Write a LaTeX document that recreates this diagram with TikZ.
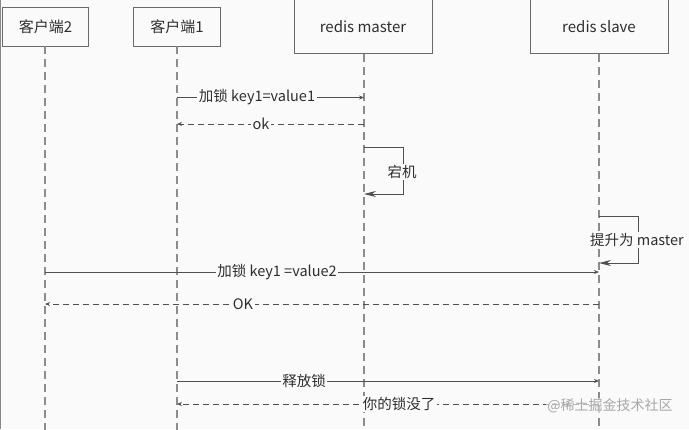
\documentclass[tikz,border=0pt]{standalone}
\usepackage{fontspec}
\setmainfont{Noto Sans CJK SC}
\usetikzlibrary{arrows.meta}
\definecolor{bg}{HTML}{FAFAFA}
\definecolor{boxc}{HTML}{6A6A6A}
\definecolor{lifec}{HTML}{8C8C8C}
\definecolor{msgc}{HTML}{505050}
\definecolor{txtc}{HTML}{2E2E2E}
\definecolor{wmc}{HTML}{A8A8A8}
\tikzset{
  actor/.style={draw=boxc, line width=0.9pt, fill=bg, font=\fontsize{15}{17}\selectfont, text=txtc},
  life/.style={draw=lifec, line width=1.2pt, dash pattern=on 8pt off 5pt},
  msg/.style={draw=msgc, line width=0.9pt, -{Stealth[length=5pt,width=4pt]}},
  reply/.style={draw=msgc, line width=0.9pt, dash pattern=on 6pt off 4pt, -{Stealth[length=5pt,width=4pt]}},
  self/.style={draw=msgc, line width=0.9pt, -{Stealth[length=12pt,width=6pt]}},
  lbl/.style={fill=bg, inner sep=1.5pt, font=\fontsize{14.5}{16}\selectfont, text=txtc},
}
\begin{document}
\begin{tikzpicture}[x=1pt,y=-1pt]
\useasboundingbox (0,0) rectangle (689,429);
\clip (0,0) rectangle (689,429);
\fill[bg] (0,0) rectangle (689,429);
\draw[boxc!80, line width=1.5pt] (0.5,0) -- (0.5,429);
% actors
\node[actor, minimum width=86pt, minimum height=39pt, anchor=north west] (c2) at (2,7) {客户端2};
\node[actor, minimum width=87pt, minimum height=39pt, anchor=north west] (c1) at (133,7) {客户端1};
\node[actor, minimum width=138pt, minimum height=60pt, anchor=south west] (m) at (294,54) {};
\node[font=\fontsize{15}{17}\selectfont, text=txtc] (mt) at (363,27) {redis master};
\node[actor, minimum width=138pt, minimum height=60pt, anchor=south west] (s) at (530,54) {};
\node[font=\fontsize{15}{17}\selectfont, text=txtc] (st) at (599,27) {redis slave};
% lifeline ends
\coordinate (c2e) at (45,432);
\coordinate (c1e) at (177,432);
\coordinate (me) at (364,432);
\coordinate (se) at (599,432);
\draw[life] (45,46) -- (c2e);
\draw[life] (177,46) -- (c1e);
\draw[life] (364,54) -- (me);
\draw[life] (599,54) -- (se);
% message points
\coordinate (a1) at (177,97.5); \coordinate (b1) at (364,97.5);
\coordinate (a2) at (364,124); \coordinate (b2) at (177,124);
\coordinate (a5) at (45,272); \coordinate (b5) at (599,272);
\coordinate (a6) at (599,304); \coordinate (b6) at (45,304);
\coordinate (a7) at (177,381); \coordinate (b7) at (599,381);
\coordinate (a8) at (599,404); \coordinate (b8) at (177,404);
\draw[msg] (a1) -- (b1);
\node[lbl] (l1) at (257,97.5) {加锁 key1=value1};
\draw[reply] (a2) -- (b2);
\node[lbl] (l2) at (261,124) {ok};
% self loops
\coordinate (sm1) at (364,147); \coordinate (sm2) at (403,147);
\coordinate (sm3) at (403,194); \coordinate (sm4) at (364,194);
\draw[self] (sm1) -- (sm2) -- (sm3) -- (sm4);
\node[lbl] (l3) at (402,172) {宕机};
\coordinate (ss1) at (599,216); \coordinate (ss2) at (638,216);
\coordinate (ss3) at (638,263); \coordinate (ss4) at (599,263);
\draw[self] (ss1) -- (ss2) -- (ss3) -- (ss4);
\node[lbl] (l4) at (637,240) {提升为 master};
\draw[msg] (a5) -- (b5);
\node[lbl] (l5) at (277,272) {加锁 key1 =value2};
\draw[reply] (a6) -- (b6);
\node[lbl] (l6) at (243,304) {OK};
\draw[msg] (a7) -- (b7);
\node[lbl] (l7) at (304,381) {释放锁};
\draw[reply] (a8) -- (b8);
\node[lbl] (l8) at (399,404) {你的锁没了};
\node[font=\fontsize{14}{16}\selectfont, text=wmc, fill=bg, fill opacity=0.6, text opacity=1, inner sep=1pt] (wm) at (610,406) {@稀土掘金技术社区};
\end{tikzpicture}
\end{document}
